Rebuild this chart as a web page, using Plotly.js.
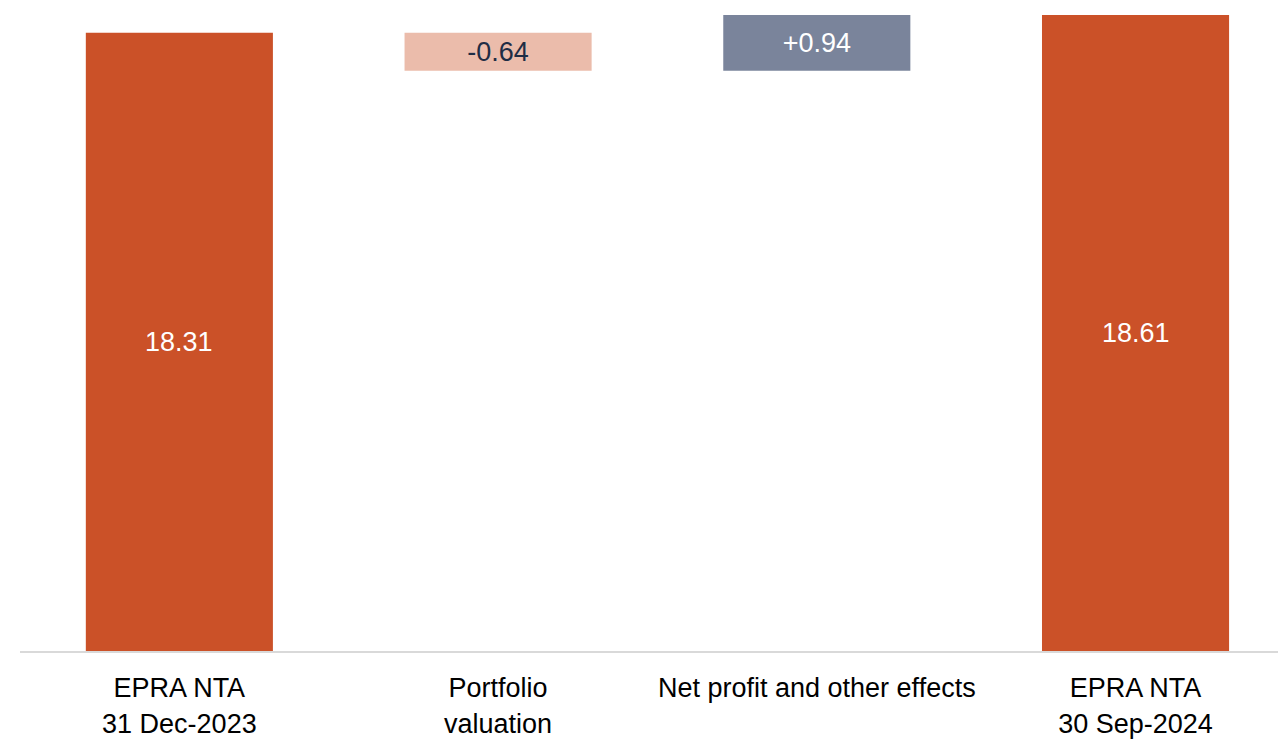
<!DOCTYPE html>
<html>
<head>
<meta charset="utf-8">
<script src="https://cdn.plot.ly/plotly-3.0.1.min.js"></script>
<style>html,body{margin:0;padding:0;background:#fff;}#chart{width:1278px;height:741px;}</style>
</head>
<body>
<div id="chart"></div>
<script>
const categories = ["EPRA NTA<br>31 Dec-2023", "Portfolio<br>valuation", "Net profit and other effects", "EPRA NTA<br>30 Sep-2024"];
const measures = ["absolute", "relative", "relative", "total"];
const values = [18.31, -0.64, 0.94, 18.61];
const labels = ["18.31", "-0.64", "+0.94", "18.61"];
const textColors = ["#FFFFFF", "#1F2D45", "#FFFFFF", "#FFFFFF"];
const yAxisMin = 7.92;
const yAxisMax = 18.86;

const FONT = "'Liberation Sans Narrow', 'Arial Narrow', 'Liberation Sans', Arial, sans-serif";
const FSIZE = 27;

const isTotalBar = (i) => measures[i] === "absolute" || measures[i] === "total";

const trace = {
  type: "waterfall",
  x: categories,
  y: values.map((v, i) => measures[i] === "total" ? 0 : v),
  measure: measures,
  text: labels.map((t, i) => isTotalBar(i) ? "" : t),
  textposition: "inside",
  insidetextanchor: "middle",
  textfont: {family: FONT, size: FSIZE, color: textColors},
  width: 0.587,
  connector: {visible: false},
  increasing: {marker: {color: "#7A849B"}},
  decreasing: {marker: {color: "#EBBCAB"}},
  totals: {marker: {color: "#CB5128"}},
  hoverinfo: "skip"
};

// labels for the total bars, centred on the visible part of the bar
const annotations = [];
values.forEach((v, i) => {
  if (isTotalBar(i)) {
    annotations.push({
      x: categories[i], y: (yAxisMin + v) / 2, xref: "x", yref: "y",
      text: labels[i], showarrow: false,
      font: {family: FONT, size: FSIZE, color: textColors[i]},
      xanchor: "center", yanchor: "middle"
    });
  }
});

const layout = {
  width: 1278,
  height: 741,
  margin: {l: 20, r: 0, t: 0, b: 90},
  paper_bgcolor: "#FFFFFF",
  plot_bgcolor: "#FFFFFF",
  showlegend: false,
  font: {family: FONT, size: FSIZE, color: "#000000"},
  annotations: annotations,
  xaxis: {
    range: [-0.5, 3.447],
    showgrid: false,
    zeroline: false,
    showline: true,
    linecolor: "#D9D9D9",
    linewidth: 2,
    ticks: "",
    ticklabelstandoff: 12,
    tickfont: {family: FONT, size: FSIZE, color: "#000000"}
  },
  yaxis: {
    range: [yAxisMin, yAxisMax],
    showgrid: false,
    zeroline: false,
    showline: false,
    showticklabels: false,
    ticks: ""
  }
};

Plotly.newPlot("chart", [trace], layout, {displayModeBar: false, staticPlot: true});
</script>
</body>
</html>
